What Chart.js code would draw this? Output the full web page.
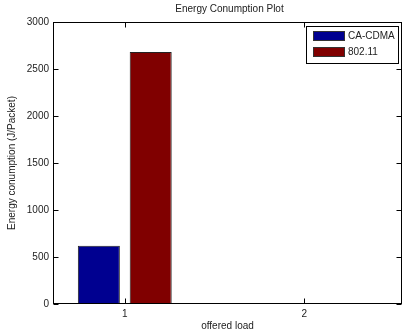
<!DOCTYPE html>
<html lang="en">
<head>
  <meta charset="UTF-8">
  <title>Energy Conumption Plot</title>
  <script src="https://cdn.jsdelivr.net/npm/chart.js"></script>
  <style>
    html, body { margin: 0; padding: 0; background: #fff; }
    #plot { display: block; }
  </style>
</head>
<body>
  <canvas id="plot" width="403" height="336"></canvas>

  <script>
    // data
    var loads = [1, 2];
    var seriesNames = ['CA-CDMA', '802.11'];
    var caCdma = [620, 0];
    var wifi = [2680, 0];
    var yTicks = [0, 500, 1000, 1500, 2000, 2500, 3000];

    var FONT = "'Liberation Sans', Arial, Helvetica, sans-serif";
    var TEXT = '#222';

    function points(vals) {
      return loads.map(function(x, i) { return { x: x, y: vals[i] }; });
    }

    // matlab style box, inward ticks, title and legend inside the axes
    var matlabAxes = {
      id: 'matlabAxes',
      afterDraw: function(chart) {
        var ctx = chart.ctx;
        var a = chart.chartArea;
        var xs = chart.scales.x, ys = chart.scales.y;
        var L = Math.round(a.left) + 0.5, R = Math.round(a.right) - 0.5;
        var T = Math.round(a.top) + 0.5, B = Math.round(a.bottom) - 0.5;
        var tl = 5;

        ctx.save();
        ctx.strokeStyle = '#000';
        ctx.lineWidth = 1;
        ctx.strokeRect(L, T, R - L, B - T);

        ctx.beginPath();
        loads.forEach(function(v) {
          var px = Math.round(xs.getPixelForValue(v)) + 0.5;
          ctx.moveTo(px, B); ctx.lineTo(px, B - tl);
          ctx.moveTo(px, T); ctx.lineTo(px, T + tl);
        });
        yTicks.forEach(function(v) {
          var py = Math.round(ys.getPixelForValue(v)) + 0.5;
          ctx.moveTo(L, py); ctx.lineTo(L + tl, py);
          ctx.moveTo(R, py); ctx.lineTo(R - tl, py);
        });
        ctx.stroke();

        // title
        ctx.fillStyle = TEXT;
        ctx.font = '10px ' + FONT;
        ctx.textAlign = 'center';
        ctx.textBaseline = 'middle';
        ctx.fillText('Energy Conumption Plot', (a.left + a.right) / 2 + 2, 9);

        // legend
        var bx = 306.5, by = 26.5, bw = 92, bh = 37;
        ctx.fillStyle = '#fff';
        ctx.fillRect(bx, by, bw, bh);
        ctx.strokeStyle = '#000';
        ctx.strokeRect(bx, by, bw, bh);
        chart.data.datasets.forEach(function(ds, i) {
          var cy = 36 + i * 16;
          ctx.fillStyle = ds.backgroundColor;
          ctx.fillRect(313, cy - 5, 32, 10);
          ctx.strokeStyle = '#333';
          ctx.strokeRect(313.5, cy - 4.5, 31, 9);
          ctx.fillStyle = TEXT;
          ctx.textAlign = 'left';
          ctx.fillText(ds.label, 348, cy);
        });
        ctx.restore();
      }
    };

    new Chart(document.getElementById('plot'), {
      type: 'bar',
      data: {
        datasets: [
          {
            label: seriesNames[0],
            data: points(caCdma),
            backgroundColor: '#000090',
            borderColor: '#222',
            borderWidth: 1,
            borderSkipped: false
          },
          {
            label: seriesNames[1],
            data: points(wifi),
            backgroundColor: '#800000',
            borderColor: '#222',
            borderWidth: 1,
            borderSkipped: false
          }
        ]
      },
      options: {
        responsive: false,
        animation: false,
        devicePixelRatio: 1,
        categoryPercentage: 0.578,
        barPercentage: 0.81,
        layout: { padding: { top: 22, right: 1, left: 0, bottom: 0 } },
        plugins: {
          legend: { display: false },
          title: { display: false },
          tooltip: { enabled: false }
        },
        scales: {
          x: {
            type: 'linear',
            min: 0.6,
            max: 2.545,
            offset: false,
            grid: { display: false, drawTicks: false },
            border: { display: false },
            afterBuildTicks: function(scale) {
              scale.ticks = loads.map(function(v) { return { value: v }; });
            },
            afterFit: function(scale) { scale.height = 32; },
            ticks: {
              padding: 4,
              color: TEXT,
              font: { family: FONT, size: 10 },
              maxRotation: 0,
              callback: function(v) { return String(v); }
            },
            title: {
              display: true,
              text: 'offered load',
              color: TEXT,
              font: { family: FONT, size: 10 },
              padding: { top: 0, bottom: 4 }
            }
          },
          y: {
            min: 0,
            max: 3000,
            grid: { display: false, drawTicks: false },
            border: { display: false },
            afterBuildTicks: function(scale) {
              scale.ticks = yTicks.map(function(v) { return { value: v }; });
            },
            afterFit: function(scale) { scale.width = 53; },
            ticks: {
              padding: 4,
              color: TEXT,
              font: { family: FONT, size: 10 },
              callback: function(v) { return String(v); }
            },
            title: {
              display: true,
              text: 'Energy conumption (J/Packet)',
              color: TEXT,
              font: { family: FONT, size: 10 },
              padding: { top: 6, bottom: 0 }
            }
          }
        }
      },
      plugins: [matlabAxes]
    });
  </script>
</body>
</html>
